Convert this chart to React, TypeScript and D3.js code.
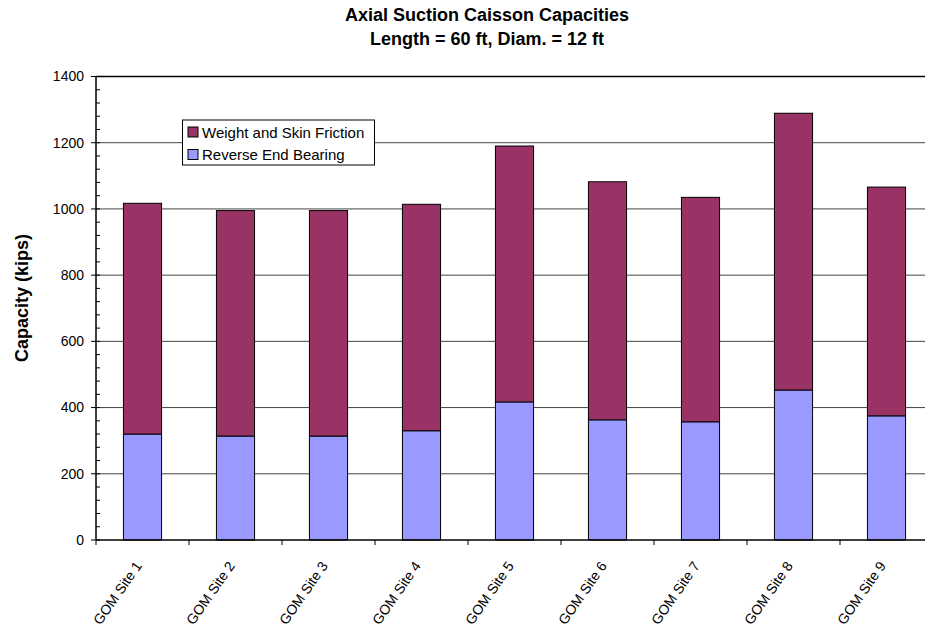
import React from "react";
import * as d3 from "d3";

const sites = ["GOM Site 1", "GOM Site 2", "GOM Site 3", "GOM Site 4", "GOM Site 5", "GOM Site 6", "GOM Site 7", "GOM Site 8", "GOM Site 9"];
const reverseEndBearing = [320, 314, 314, 330, 417, 363, 357, 453, 375];
const totalCapacity = [1017, 995, 995, 1014, 1190, 1082, 1035, 1289, 1066];
const weightAndSkin = totalCapacity.map((t, i) => t - reverseEndBearing[i]);
const yTicks = [0, 200, 400, 600, 800, 1000, 1200, 1400];
const seriesNames = ["Weight and Skin Friction", "Reverse End Bearing"];
const seriesColors = ["#993366", "#9999FF"];

const W = 925;
const H = 632;
const left = 96;
const right = 933;
const top = 76.5;
const bottom = 540;
const font = "Arial, 'Liberation Sans', Helvetica, sans-serif";

export default function App() {
  const x = d3.scaleBand<string>().domain(sites).range([left, right]).paddingInner(0.59).paddingOuter(0.295);
  const y = d3.scaleLinear().domain([0, 1400]).range([bottom, top]);
  const step = x.step();
  const minor = d3.range(0, 1401, 40);

  const rows = sites.map((s, i) => ({ s, base: reverseEndBearing[i], upper: weightAndSkin[i] }));

  return (
    <svg width={W} height={H} style={{ position: "absolute", left: 0, top: 0, background: "#fff" }} fontFamily={font}>
      <text x={487} y={21} textAnchor="middle" fontWeight="bold" fontSize={18}>Axial Suction Caisson Capacities</text>
      <text x={487} y={45} textAnchor="middle" fontWeight="bold" fontSize={18}>Length = 60 ft, Diam. = 12 ft</text>

      {yTicks.filter(v => v > 0 && v < 1400).map(v => (
        <line key={v} x1={left} x2={right} y1={y(v)} y2={y(v)} stroke="#444" strokeWidth={1} />
      ))}
      <line x1={left} x2={right} y1={y(1400)} y2={y(1400)} stroke="#000" strokeWidth={1.5} />

      {rows.map(r => (
        <g key={r.s}>
          <rect x={x(r.s)} y={y(r.base)} width={x.bandwidth()} height={y(0) - y(r.base)} fill={seriesColors[1]} stroke="#000" strokeWidth={1} />
          <rect x={x(r.s)} y={y(r.base + r.upper)} width={x.bandwidth()} height={y(r.base) - y(r.base + r.upper)} fill={seriesColors[0]} stroke="#000" strokeWidth={1} />
        </g>
      ))}

      <line x1={left} x2={left} y1={top} y2={bottom} stroke="#000" strokeWidth={1.5} />
      <line x1={left} x2={right} y1={bottom} y2={bottom} stroke="#000" strokeWidth={1.5} />
      {minor.map(v => (
        <line key={"m" + v} x1={left} x2={left + 4} y1={y(v)} y2={y(v)} stroke="#000" strokeWidth={1} />
      ))}
      {yTicks.map(v => (
        <g key={"t" + v}>
          <line x1={left - 5} x2={left} y1={y(v)} y2={y(v)} stroke="#000" strokeWidth={1} />
          <text x={left - 12} y={y(v)} dy="0.35em" textAnchor="end" fontSize={14}>{v}</text>
        </g>
      ))}
      {d3.range(sites.length + 1).map(i => (
        <line key={"x" + i} x1={left + i * step} x2={left + i * step} y1={bottom} y2={bottom + 5} stroke="#000" strokeWidth={1} />
      ))}
      {sites.map(s => {
        const cx = (x(s) as number) + x.bandwidth() / 2;
        return (
          <text key={"l" + s} transform={`translate(${cx - 4},${bottom + 23}) rotate(-55)`} textAnchor="end" dy="0.35em" fontSize={14}>{s}</text>
        );
      })}

      <text transform={`translate(28,298) rotate(-90)`} textAnchor="middle" fontWeight="bold" fontSize={18}>Capacity (kips)</text>

      <rect x={182.5} y={120} width={192} height={45} fill="#fff" stroke="#000" strokeWidth={1} />
      {seriesNames.map((n, i) => (
        <g key={n}>
          <rect x={188} y={127 + i * 22.5} width={10} height={10} fill={seriesColors[i]} stroke="#000" strokeWidth={1} />
          <text x={202} y={137.5 + i * 22.5} fontSize={15}>{n}</text>
        </g>
      ))}
    </svg>
  );
}
